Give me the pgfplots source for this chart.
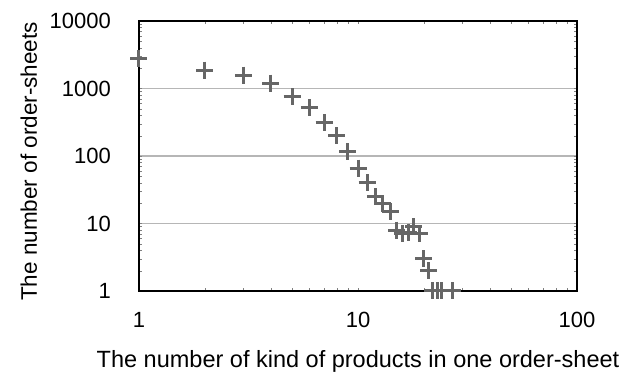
\documentclass[border=0pt]{standalone}
\usepackage{fontspec}
\setmainfont{Liberation Sans}
\usepackage{pgfplots}
\pgfplotsset{compat=1.18}
\definecolor{markgray}{RGB}{102,102,102}
\definecolor{gridgray}{RGB}{182,182,182}
\begin{document}
\begin{tikzpicture}
\begin{axis}[
  scale only axis,
  width=438pt, height=270pt,
  xmode=log, ymode=log,
  xmin=1, xmax=100, ymin=1, ymax=10000,
  xtick={1,10,100}, xticklabels={1,10,100},
  ytick={1,10,100,1000,10000}, yticklabels={1,10,100,1000,10000},
  minor xtick={}, minor ytick={},
  major tick length=0pt,
  ymajorgrids=true,
  grid style={gridgray, line width=1.3pt},
  axis line style={black, line width=1.4pt},
  tick label style={font=\fontsize{22}{24}\selectfont, inner sep=0pt},
  yticklabel style={anchor=east, xshift=-28pt},
  xticklabel style={anchor=north, yshift=-21pt},
  xlabel={The number of kind of products in one order-sheet},
  ylabel={The number of order-sheets},
  xlabel style={font=\fontsize{23.5}{26}\selectfont, at={(axis description cs:0.5,-0.2815)}, anchor=base, inner sep=0pt},
  ylabel style={font=\fontsize{22.5}{25}\selectfont, at={(axis description cs:-0.2329,0.48)}, anchor=base, inner sep=0pt},
  clip=false,
]
\addplot[only marks, mark=+, mark size=8.5pt, mark options={markgray, line width=3pt}] coordinates {
(1,2750) (2,1870) (3,1580) (4,1200) (5,750) (6,515) (7,310) (8,198) (9,115)
(10,66) (11,40) (12,25) (13,19.5) (14,15) (15,8) (16,7) (17,7.3) (18,9) (19,7)
(20,3) (21,2) (22,1) (23,1) (24,1) (27,1)
};
\coordinate (bl) at (rel axis cs:0,0);
\end{axis}
\pgfresetboundingbox
\path ([shift={(-139pt,-83pt)}]bl) rectangle ++(631pt,374pt);
\end{tikzpicture}
\end{document}
